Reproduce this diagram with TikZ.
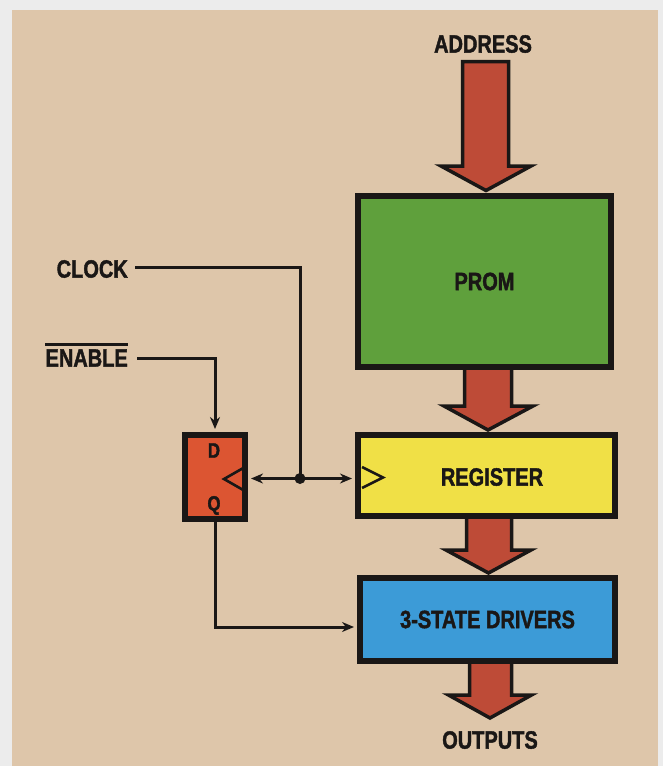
\documentclass[tikz,border=0pt]{standalone}
\usepackage{fontspec}
\newfontfamily\lblfont[FakeStretch=0.8, BoldFeatures={FakeBold=1.6}]{Liberation Sans}
\usetikzlibrary{arrows.meta,calc}
\definecolor{bg}{HTML}{DEC6AA}
\definecolor{edge}{HTML}{ECECEC}
\definecolor{ink}{HTML}{1A1716}
\definecolor{promgreen}{HTML}{5FA03C}
\definecolor{regyellow}{HTML}{F0E046}
\definecolor{drvblue}{HTML}{3C9BD7}
\definecolor{arrowred}{HTML}{BE4B37}
\definecolor{fforange}{HTML}{DC5532}
\begin{document}
\begin{tikzpicture}[x=1pt,y=-1pt,
  lbl/.style={font=\lblfont\bfseries\fontsize{25}{25}\selectfont, text=ink, inner sep=0pt},
  small/.style={font=\lblfont\bfseries\fontsize{21}{21}\selectfont, text=ink, inner sep=0pt},
  box/.style={draw=ink, line width=6pt, inner sep=0pt, lbl},
  blockarrow/.style={fill=arrowred, draw=ink, line width=3.5pt, line join=miter},
  sig/.style={draw=ink, line width=3pt},
  tipped/.style={-{Stealth[length=12pt,width=10pt]}, shorten >=3pt},
  clk/.style={draw=ink, line width=2.6pt, line join=miter}]
\fill[edge] (0,0) rectangle (663,766);
\fill[bg] (12,10) rectangle (658,766);
\useasboundingbox (0,0) rectangle (663,766);

% block arrows
\draw[blockarrow] (462.5,61.5) -- (462.5,166) -- (441,166) -- (486,190.5) -- (531,166) -- (508.5,166) -- (508.5,61.5) -- cycle;
\draw[blockarrow] (464.5,360) -- (464.5,406) -- (444,406) -- (488,430) -- (533,406) -- (511.5,406) -- (511.5,360) -- cycle;
\draw[blockarrow] (466.5,505) -- (466.5,550) -- (446,550) -- (488.5,573) -- (531,550) -- (511.5,550) -- (511.5,505) -- cycle;
\draw[blockarrow] (469.5,655) -- (469.5,695) -- (448.5,695) -- (490,718) -- (531.5,695) -- (511.5,695) -- (511.5,655) -- cycle;

% boxes
\node[box, fill=promgreen, minimum width=253pt, minimum height=171pt] (prom) at (484.5,281.5) {PROM};
\node[box, fill=regyellow, minimum width=257pt, minimum height=81pt] (reg) at (486.5,475.5) {};
\node[lbl] (regtext) at (492,477) {REGISTER};
\node[box, fill=drvblue, minimum width=255pt, minimum height=83pt] (drv) at (487.5,619.5) {3-STATE DRIVERS};
\node[box, fill=fforange, minimum width=60pt, minimum height=84pt] (ff) at (215,477) {};
\node[small] (dlbl) at (214,450.5) {D};
\node[small] (qlbl) at (214,505.5) {Q};

% clock triangles
\draw[clk] (362,467) -- (383,477.5) -- (362,488);
\draw[clk] (245,467) -- (224,479) -- (245,491);

% labels
\node[lbl] (address) at (483,44) {ADDRESS};
\node[lbl] (outputs) at (490,740) {OUTPUTS};
\node[lbl, anchor=east] (clock) at (128,269) {CLOCK};
\node[lbl, anchor=east] (enable) at (128,358) {ENABLE};
\draw[line width=3pt, draw=ink] ([yshift=5pt]enable.north west) -- ([yshift=5pt]enable.north east);

% signals
\coordinate (clkdot) at (300,478.5);
\coordinate (qy) at (0,627);
\draw[sig] ([xshift=7pt,yshift=2pt]clock.east) -| (clkdot);
\fill[ink] (clkdot) circle (5.5);
\draw[sig, tipped] (clkdot) -- (ff.east |- clkdot);
\draw[sig, tipped] (clkdot) -- (reg.west |- clkdot);
\draw[sig, tipped] ([xshift=9pt]enable.east) -| (ff.north);
\draw[sig, tipped] (ff.south) |- (drv.west |- qy);
\end{tikzpicture}
\end{document}
